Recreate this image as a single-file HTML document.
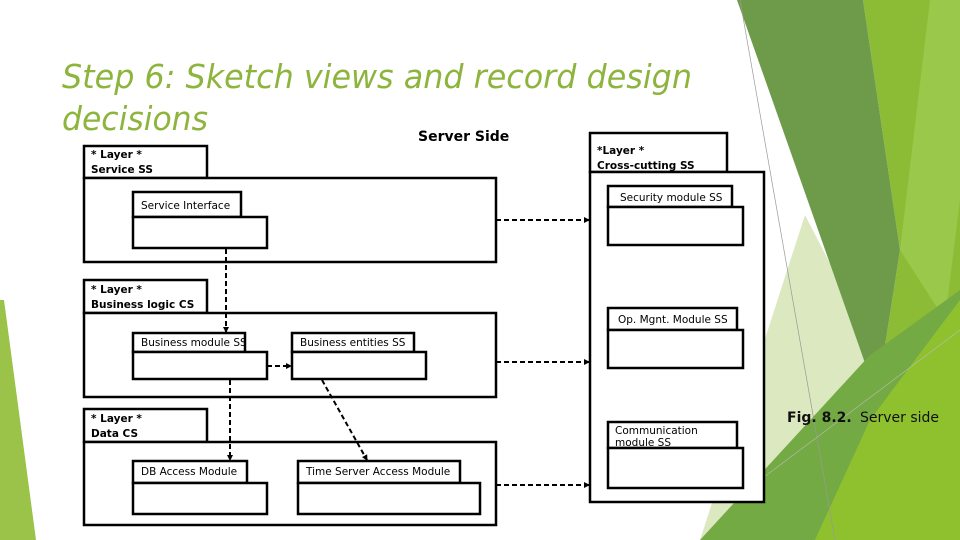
<!DOCTYPE html>
<html><head><meta charset="utf-8"><style>
html,body{margin:0;padding:0;background:#fff;}
svg{display:block;}
text{font-family:"DejaVu Sans","Liberation Sans",sans-serif;}
</style></head><body>
<svg width="960" height="540" viewBox="0 0 960 540" xmlns="http://www.w3.org/2000/svg">
<defs>
<marker id="ah" markerWidth="6" markerHeight="6" refX="5" refY="3" orient="auto" markerUnits="userSpaceOnUse"><path d="M0,0 L6,3 L0,6 z" fill="#000"/></marker>
</defs>
<polygon points="0,300 4,300 36,540 0,540" fill="#9bc34a"/>
<polygon points="805,215 890,380 760,540 700,540" fill="#dbe8c0"/>
<polygon points="863,0 960,0 960,540 820,540 877,397 900,250" fill="#8cbb35"/>
<polygon points="930,0 960,0 960,200 945,320 900,250" fill="#9ac84a"/>
<polygon points="737,0 863,0 900,250 877,397" fill="#6e9b4a"/>
<polygon points="700,540 870,355 905,330 960,290 960,540" fill="#74aa44"/>
<polygon points="870,420 960,300 960,540 815,540" fill="#8fc12f"/>
<line x1="740" y1="0" x2="835" y2="540" stroke="#999" stroke-width="0.7"/>
<line x1="760" y1="480" x2="960" y2="330" stroke="#bbb" stroke-width="0.6"/>

<text x="62" y="88" font-family="DejaVu Sans" font-style="oblique" font-size="33" fill="#8db43c" textLength="630" lengthAdjust="spacingAndGlyphs">Step 6: Sketch views and record design</text>
<text x="62" y="130" font-family="DejaVu Sans" font-style="oblique" font-size="33" fill="#8db43c" textLength="146" lengthAdjust="spacingAndGlyphs">decisions</text>
<text x="418" y="141" font-size="14" font-weight="bold" fill="#000">Server Side</text>

<g fill="#fff" stroke="#000" stroke-width="2.5">
<rect x="84" y="146" width="123" height="32"/>
<rect x="84" y="178" width="412" height="84"/>
<rect x="133" y="192" width="108" height="25"/>
<rect x="133" y="217" width="134" height="31"/>
<rect x="84" y="280" width="123" height="33"/>
<rect x="84" y="313" width="412" height="84"/>
<rect x="133" y="333" width="112" height="19"/>
<rect x="133" y="352" width="134" height="27"/>
<rect x="292" y="333" width="122" height="19"/>
<rect x="292" y="352" width="134" height="27"/>
<rect x="84" y="409" width="123" height="33"/>
<rect x="84" y="442" width="412" height="83"/>
<rect x="133" y="461" width="114" height="22"/>
<rect x="133" y="483" width="134" height="31"/>
<rect x="298" y="461" width="162" height="22"/>
<rect x="298" y="483" width="182" height="31"/>
<rect x="590" y="133" width="137" height="39"/>
<rect x="590" y="172" width="174" height="330"/>
<rect x="608" y="186" width="124" height="21"/>
<rect x="608" y="207" width="135" height="38"/>
<rect x="608" y="308" width="129" height="22"/>
<rect x="608" y="330" width="135" height="38"/>
<rect x="608" y="422" width="129" height="26"/>
<rect x="608" y="448" width="135" height="40"/>
</g>

<g font-size="10.5" font-weight="bold" fill="#000">
<text x="91" y="158">* Layer *</text><text x="91" y="173">Service SS</text>
<text x="91" y="293">* Layer *</text><text x="91" y="308">Business logic CS</text>
<text x="91" y="422">* Layer *</text><text x="91" y="437">Data CS</text>
<text x="597" y="154">*Layer *</text><text x="597" y="169">Cross-cutting SS</text>
</g>
<g font-size="10.5" fill="#000">
<text x="141" y="209">Service Interface</text>
<text x="141" y="346">Business module SS</text>
<text x="300" y="346">Business entities SS</text>
<text x="141" y="475">DB Access Module</text>
<text x="306" y="475">Time Server Access Module</text>
<text x="620" y="201">Security module SS</text>
<text x="618" y="323">Op. Mgnt. Module SS</text>
<text x="615" y="434">Communication</text>
<text x="615" y="446">module SS</text>
</g>

<g stroke="#000" stroke-width="2" stroke-dasharray="5,3" fill="none" marker-end="url(#ah)">
<line x1="496" y1="220" x2="589" y2="220"/>
<line x1="496" y1="362" x2="589" y2="362"/>
<line x1="496" y1="485" x2="589" y2="485"/>
<line x1="226" y1="249" x2="226" y2="332"/>
<line x1="267" y1="366" x2="291" y2="366"/>
<line x1="230" y1="380" x2="230" y2="460"/>
<line x1="322" y1="380" x2="367" y2="460"/>
</g>

<text x="787" y="422" font-size="14" font-weight="bold" fill="#111">Fig. 8.2.</text>
<text x="860" y="422" font-size="14" fill="#111">Server side</text>
</svg>
</body></html>
